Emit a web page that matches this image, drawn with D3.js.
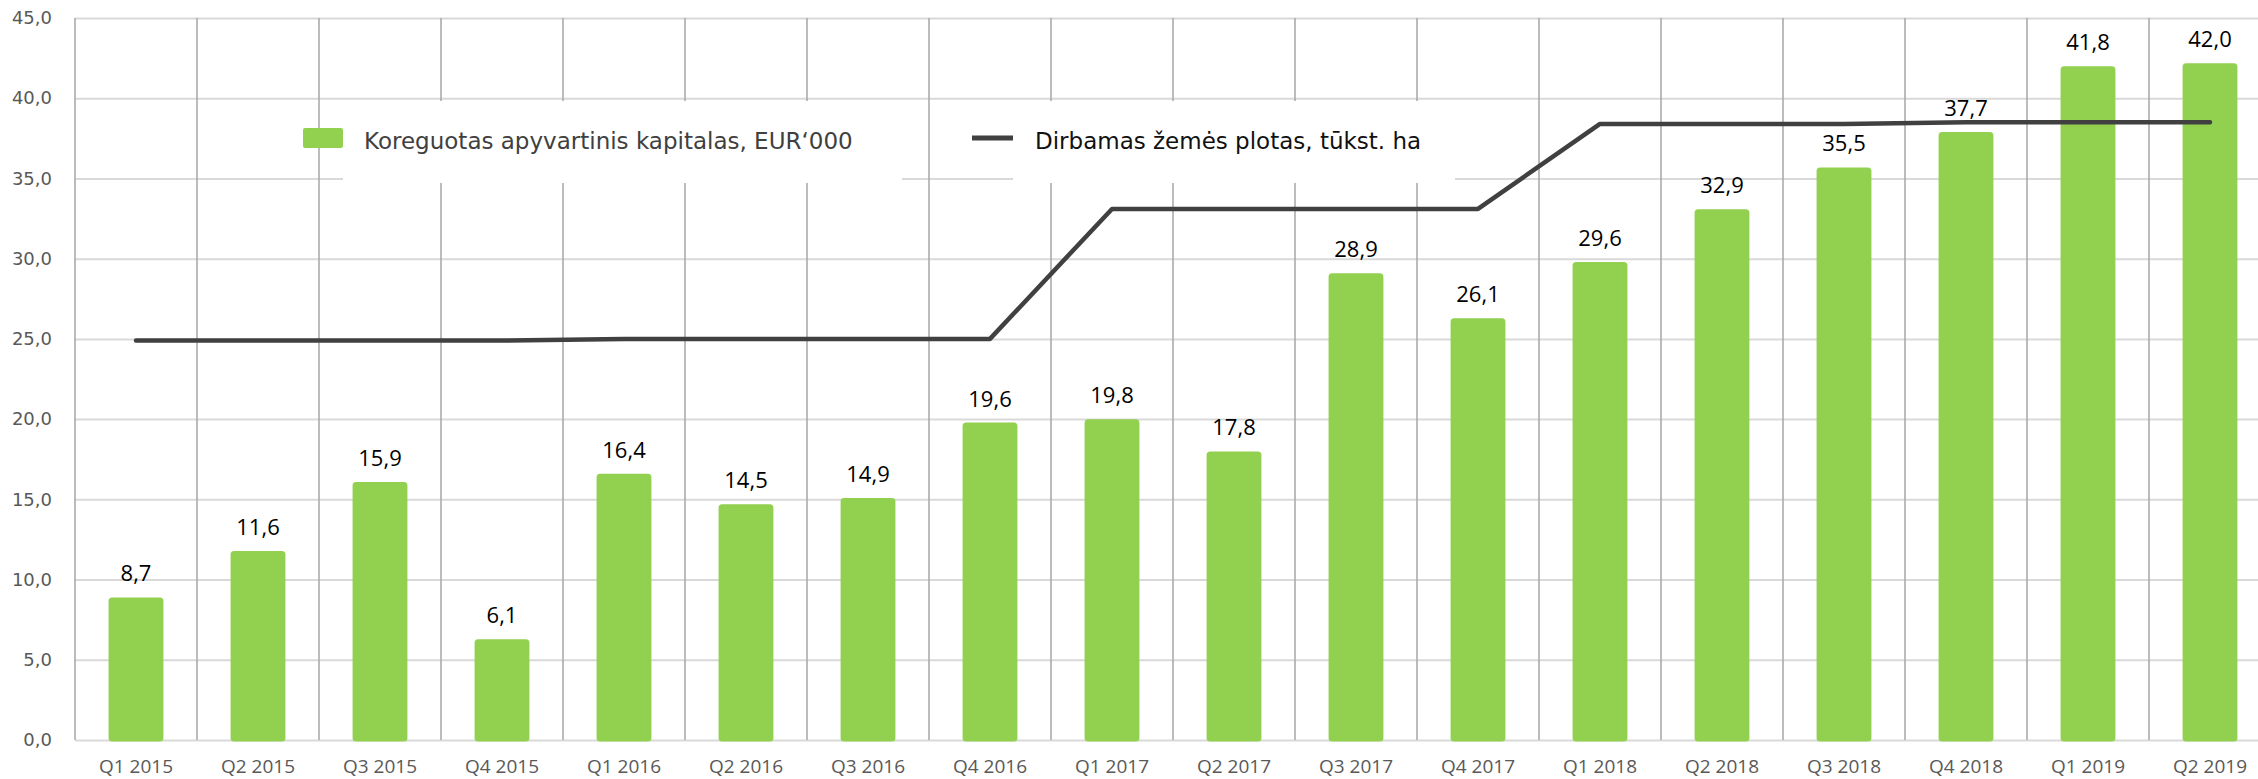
<!DOCTYPE html>
<html>
<head>
<meta charset="utf-8">
<script src="https://cdn.jsdelivr.net/npm/d3@7"></script>
<style>
  body { margin: 0; background: #fff; overflow: hidden; }
</style>
</head>
<body>
<script>
const quarters = ["Q1 2015", "Q2 2015", "Q3 2015", "Q4 2015", "Q1 2016", "Q2 2016", "Q3 2016", "Q4 2016",
    "Q1 2017", "Q2 2017", "Q3 2017", "Q4 2017", "Q1 2018", "Q2 2018", "Q3 2018", "Q4 2018", "Q1 2019", "Q2 2019"];
const capital = [8.7, 11.6, 15.9, 6.1, 16.4, 14.5, 14.9, 19.6, 19.8, 17.8, 28.9, 26.1, 29.6, 32.9, 35.5, 37.7, 41.8, 42.0];
const land = [24.9, 24.9, 24.9, 24.9, 25.0, 25.0, 25.0, 25.0, 33.1, 33.1, 33.1, 33.1, 38.4, 38.4, 38.4, 38.5, 38.5, 38.5];
const yTicks = [0, 5, 10, 15, 20, 25, 30, 35, 40, 45];
const legendNames = ["Koreguotas apyvartinis kapitalas, EUR‘000", "Dirbamas žemės plotas, tūkst. ha"];

const w = 2258, h = 779;
const padLeft = 75, padTop = 18, axisY = 740;
const band = 122;

const svg = d3.select("body").append("svg")
    .attr("width", w).attr("height", h);

const xScale = d3.scaleBand()
    .domain(quarters)
    .range([padLeft, padLeft + quarters.length * band])
    .padding(0);

const yScale = d3.scaleLinear()
    .domain([0, 45])
    .range([axisY, padTop]);

const fmt = (v) => d3.format(".1f")(v).replace(".", ",");

// horizontal grid + y labels
const yAxis = d3.axisLeft(yScale)
    .tickValues(yTicks)
    .tickSize(-(w - padLeft))
    .tickPadding(23)
    .tickFormat(fmt);
const gy = svg.append("g")
    .attr("transform", "translate(" + padLeft + ",0)")
    .call(yAxis);
gy.select(".domain").remove();
gy.selectAll("line").attr("stroke", "#d9d9d9").attr("stroke-width", 2);
gy.selectAll("text")
    .attr("fill", "#595959")
    .style("font-family", "DejaVu Sans")
    .style("font-size", "18px");

// vertical grid at category boundaries
svg.append("g").selectAll("line")
    .data(quarters)
    .enter()
    .append("line")
    .attr("x1", (d) => xScale(d))
    .attr("x2", (d) => xScale(d))
    .attr("y1", padTop)
    .attr("y2", axisY)
    .attr("stroke", "#a6a6a6")
    .attr("stroke-width", 1.5);

// x axis labels (kept just inside the bottom edge)
const xAxis = d3.axisBottom(xScale).tickSize(0).tickPadding(20);
const gx = svg.append("g")
    .attr("transform", "translate(0," + axisY + ")")
    .call(xAxis);
gx.select(".domain").remove();
gx.selectAll("text")
    .attr("fill", "#595959")
    .style("font-family", "Open Sans")
    .style("font-size", "19px");

// legend
const legend = svg.append("g");
legend.append("rect")
    .attr("x", 343).attr("y", 101).attr("width", 559).attr("height", 82)
    .attr("fill", "#fff");
legend.append("rect")
    .attr("x", 1013).attr("y", 101).attr("width", 442).attr("height", 82)
    .attr("fill", "#fff");
legend.append("rect")
    .attr("x", 303).attr("y", 128).attr("width", 40).attr("height", 20).attr("rx", 2)
    .attr("fill", "#92d050");
legend.append("text")
    .attr("x", 364).attr("y", 149)
    .attr("fill", "#404040")
    .style("font-family", "DejaVu Sans")
    .style("font-size", "23px")
    .text(legendNames[0]);
legend.append("line")
    .attr("x1", 972).attr("x2", 1013).attr("y1", 138).attr("y2", 138)
    .attr("stroke", "#404040").attr("stroke-width", 5);
legend.append("text")
    .attr("x", 1035).attr("y", 149)
    .attr("fill", "#111")
    .style("font-family", "DejaVu Sans")
    .style("font-size", "23px")
    .text(legendNames[1]);

// bars (with a same-colour border, like the original)
const barW = xScale.bandwidth() * 0.425;
svg.append("g").selectAll("rect")
    .data(capital)
    .enter()
    .append("rect")
    .attr("x", (d, i) => xScale(quarters[i]) + (xScale.bandwidth() - barW) / 2)
    .attr("y", (d) => yScale(d) - 1.5)
    .attr("width", barW)
    .attr("height", (d) => axisY - yScale(d) + 1.5)
    .attr("rx", 2)
    .attr("fill", "#92d050")
    .attr("stroke", "#92d050")
    .attr("stroke-width", 3)
    .attr("stroke-linejoin", "round");

// bar labels
svg.append("g").selectAll("text")
    .data(capital)
    .enter()
    .append("text")
    .attr("x", (d, i) => xScale(quarters[i]) + xScale.bandwidth() / 2)
    .attr("y", (d) => yScale(d) - 19)
    .attr("text-anchor", "middle")
    .attr("fill", "#000")
    .style("font-family", "Open Sans")
    .style("font-size", "22px")
    .text(fmt);

// line
const line = d3.line()
    .x((d, i) => xScale(quarters[i]) + xScale.bandwidth() / 2)
    .y((d) => yScale(d));
svg.append("path")
    .datum(land)
    .attr("d", line)
    .attr("fill", "none")
    .attr("stroke", "#404040")
    .attr("stroke-width", 4.5)
    .attr("stroke-linejoin", "round")
    .attr("stroke-linecap", "round");
</script>
</body>
</html>
